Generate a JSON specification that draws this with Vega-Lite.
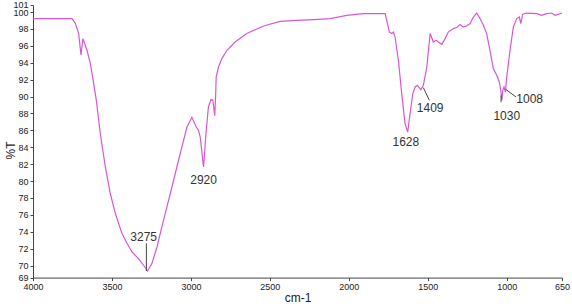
{
  "$schema": "https://vega.github.io/schema/vega-lite/v6.json",
  "autosize": {"type": "none"},
  "width": 529,
  "height": 272.6,
  "padding": {"left": 33, "top": 5, "right": 10, "bottom": 29},
  "background": "white",
  "config": {
    "view": {"stroke": null},
    "font": "Liberation Sans",
    "axis": {"grid": false, "domainColor": "#444", "tickColor": "#444", "labelColor": "#222", "titleColor": "#222", "labelFont": "Liberation Sans", "titleFont": "Liberation Sans", "labelFontSize": 9, "titleFontSize": 12, "titleFontWeight": "normal", "tickSize": 3, "labelPadding": 2, "labelFlush": false, "labelOverlap": false}
  },
  "datasets": {
    "spectrum": [
      {"wn": 4000, "t": 99.23}, {"wn": 3753, "t": 99.23}, {"wn": 3732, "t": 98.67}, {"wn": 3711, "t": 97.49},
      {"wn": 3696, "t": 94.89}, {"wn": 3684, "t": 96.86}, {"wn": 3658, "t": 95.48}, {"wn": 3637, "t": 93.94},
      {"wn": 3616, "t": 91.57}, {"wn": 3599, "t": 89.56}, {"wn": 3574, "t": 85.66}, {"wn": 3542, "t": 81.67},
      {"wn": 3511, "t": 78.56}, {"wn": 3479, "t": 76.19}, {"wn": 3437, "t": 73.82}, {"wn": 3405, "t": 72.64},
      {"wn": 3373, "t": 71.61}, {"wn": 3332, "t": 70.83}, {"wn": 3300, "t": 70.04}, {"wn": 3275, "t": 69.36},
      {"wn": 3247, "t": 70.24}, {"wn": 3215, "t": 72.2}, {"wn": 3184, "t": 74.57}, {"wn": 3152, "t": 76.94},
      {"wn": 3120, "t": 79.3}, {"wn": 3089, "t": 81.67}, {"wn": 3057, "t": 84.04}, {"wn": 3025, "t": 86.4},
      {"wn": 2994, "t": 87.55}, {"wn": 2966, "t": 86.4}, {"wn": 2952, "t": 86.01}, {"wn": 2941, "t": 85.22},
      {"wn": 2920, "t": 81.67}, {"wn": 2903, "t": 86.01}, {"wn": 2889, "t": 88.77}, {"wn": 2873, "t": 89.64},
      {"wn": 2861, "t": 89.56}, {"wn": 2849, "t": 87.73}, {"wn": 2843, "t": 90.35}, {"wn": 2840, "t": 92.32},
      {"wn": 2825, "t": 93.5}, {"wn": 2804, "t": 94.5}, {"wn": 2772, "t": 95.48}, {"wn": 2720, "t": 96.46},
      {"wn": 2646, "t": 97.46}, {"wn": 2540, "t": 98.35}, {"wn": 2435, "t": 98.91}, {"wn": 2329, "t": 99.03},
      {"wn": 2224, "t": 99.11}, {"wn": 2118, "t": 99.23}, {"wn": 2013, "t": 99.62}, {"wn": 1908, "t": 99.82},
      {"wn": 1770, "t": 99.82}, {"wn": 1760, "t": 99.03}, {"wn": 1743, "t": 97.64}, {"wn": 1728, "t": 97.46},
      {"wn": 1718, "t": 97.64}, {"wn": 1707, "t": 97.05}, {"wn": 1686, "t": 94.3}, {"wn": 1665, "t": 90.35},
      {"wn": 1644, "t": 86.8}, {"wn": 1627, "t": 85.81}, {"wn": 1612, "t": 87.99}, {"wn": 1595, "t": 90.35},
      {"wn": 1580, "t": 91.14}, {"wn": 1566, "t": 91.34}, {"wn": 1544, "t": 90.83}, {"wn": 1528, "t": 91.34},
      {"wn": 1506, "t": 93.5}, {"wn": 1485, "t": 97.46}, {"wn": 1465, "t": 96.46}, {"wn": 1447, "t": 96.66},
      {"wn": 1433, "t": 96.46}, {"wn": 1411, "t": 96.19}, {"wn": 1390, "t": 96.86}, {"wn": 1370, "t": 97.64},
      {"wn": 1338, "t": 98.05}, {"wn": 1316, "t": 98.17}, {"wn": 1296, "t": 98.52}, {"wn": 1275, "t": 98.24},
      {"wn": 1253, "t": 98.38}, {"wn": 1232, "t": 98.64}, {"wn": 1211, "t": 99.42}, {"wn": 1190, "t": 99.89},
      {"wn": 1169, "t": 99.23}, {"wn": 1148, "t": 98.44}, {"wn": 1127, "t": 97.46}, {"wn": 1106, "t": 95.48},
      {"wn": 1085, "t": 93.31}, {"wn": 1063, "t": 92.52}, {"wn": 1047, "t": 91.73}, {"wn": 1038, "t": 90.75},
      {"wn": 1030, "t": 89.56}, {"wn": 1025, "t": 90.75}, {"wn": 1017, "t": 91.14}, {"wn": 1008, "t": 90.54},
      {"wn": 1000, "t": 92.32}, {"wn": 979, "t": 95.48}, {"wn": 958, "t": 98.24}, {"wn": 937, "t": 99.23},
      {"wn": 920, "t": 99.42}, {"wn": 911, "t": 98.64}, {"wn": 899, "t": 99.74}, {"wn": 873, "t": 99.89},
      {"wn": 810, "t": 99.82}, {"wn": 778, "t": 99.62}, {"wn": 747, "t": 99.82}, {"wn": 715, "t": 99.89},
      {"wn": 694, "t": 99.62}, {"wn": 650, "t": 99.89}
    ],
    "labels": [
      {"wn": 3299, "t": 73.38, "label": "3275"},
      {"wn": 2920, "t": 80.18, "label": "2920"},
      {"wn": 1639, "t": 84.63, "label": "1628"},
      {"wn": 1485, "t": 88.7, "label": "1409"},
      {"wn": 1000, "t": 87.67, "label": "1030"},
      {"wn": 854.5, "t": 89.68, "label": "1008"}
    ],
    "leaders": [
      {"wn": 3282, "t": 72.64, "wn2": 3282, "t2": 69.36},
      {"wn": 1528, "t": 91.06, "wn2": 1490, "t2": 89.56},
      {"wn": 1036, "t": 90.15, "wn2": 1036, "t2": 89.33},
      {"wn": 1004, "t": 90.83, "wn2": 941, "t2": 89.95}
    ]
  },
  "encoding": {
    "x": {"field": "wn", "type": "quantitative",
      "scale": {"domain": [4000, 650], "nice": false, "zero": false},
      "axis": {"values": [4000, 3500, 3000, 2500, 2000, 1500, 1000, 650], "title": "cm-1", "titleY": 19.5, "titleBaseline": "middle", "format": "d", "labelOverlap": false, "labelFlush": false}},
    "y": {"field": "t", "type": "quantitative",
      "scale": {"domain": [68.58, 100.84], "nice": false, "zero": false},
      "axis": {"values": [68.58, 70, 72, 74, 76, 78, 80, 82, 84, 86, 88, 90, 92, 94, 96, 98, 100, 100.84],
        "labelExpr": "datum.value < 69 ? '69' : (datum.value > 100.5 ? '101' : datum.label)",
        "labelOverlap": false, "labelFlush": false, "labelBound": false,
        "encode": {"labels": {"update": {"dy": {"signal": "datum.value > 100.5 ? -1.5 : (datum.value == 100 ? 3.5 : 0)"}}}},
        "title": "%T", "titleX": -23, "titleY": 145, "titleBaseline": "middle", "titleAngle": -90}}
  },
  "layer": [
    {
      "data": {"name": "spectrum"},
      "mark": {"type": "line", "color": "#d657d6", "strokeWidth": 1.2, "interpolate": "linear"}
    },
    {
      "data": {"name": "leaders"},
      "mark": {"type": "rule", "color": "#444", "strokeWidth": 1},
      "encoding": {
        "x2": {"field": "wn2"},
        "y2": {"field": "t2"}
      }
    },
    {
      "data": {"name": "labels"},
      "mark": {"type": "text", "fontSize": 12, "color": "#333", "align": "center", "baseline": "middle", "font": "Liberation Sans"},
      "encoding": {
        "text": {"field": "label"}
      }
    }
  ]
}
